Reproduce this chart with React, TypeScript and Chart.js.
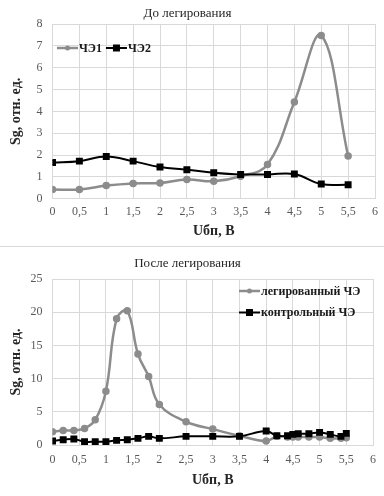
import React, { useEffect, useRef } from "react";
import { Chart, registerables } from "chart.js";

Chart.register(...registerables);

// ---- Data: "До легирования"
const xBefore = [0, 0.5, 1, 1.5, 2, 2.5, 3, 3.5, 4, 4.5, 5, 5.5];
const ce1 = [0.42, 0.42, 0.6, 0.7, 0.72, 0.88, 0.8, 1.03, 1.57, 4.43, 7.47, 1.95];
const ce2 = [1.66, 1.72, 1.93, 1.72, 1.45, 1.33, 1.19, 1.11, 1.11, 1.13, 0.67, 0.64];

// ---- Data: "После легирования"
const xAfter = [0, 0.2, 0.4, 0.6, 0.8, 1.0, 1.2, 1.4, 1.6, 1.8, 2.0, 2.5, 3.0, 3.5, 4.0, 4.2, 4.4, 4.5, 4.6, 4.8, 5.0, 5.2, 5.4, 5.5];
const doped = [2.0, 2.2, 2.2, 2.5, 3.8, 8.1, 19.0, 20.2, 13.7, 10.3, 6.1, 3.5, 2.4, 1.4, 0.6, 1.3, 1.2, 1.2, 1.2, 1.2, 1.2, 1.0, 1.0, 1.1];
const control = [0.6, 0.8, 0.9, 0.5, 0.5, 0.5, 0.7, 0.8, 1.0, 1.3, 1.0, 1.3, 1.3, 1.3, 2.1, 1.4, 1.4, 1.6, 1.7, 1.7, 1.9, 1.6, 1.3, 1.75];

const titleBefore = "До легирования";
const titleAfter = "После легирования";
const legendBefore = ["ЧЭ1", "ЧЭ2"];
const legendAfter = ["легированный ЧЭ", "контрольный ЧЭ"];
const yTitle = "Sg, отн. ед.";
const xTitle = "Uбп, В";

const FONT = "'Liberation Serif', 'Times New Roman', serif";
const GRAY = "#8c8c8c";
const BLACK = "#000000";
const GRID = "#d9d9d9";
const TICK = "#595959";

const toPts = (xs: number[], ys: number[]) => xs.map((x, i) => ({ x, y: ys[i] }));

type LegendCfg = {
  labels: string[];
  layout: "row" | "column";
  fromRight: boolean;
  dx: number;
  dy: number;
  rowGap: number;
};

const customLegend = {
  id: "customLegend",
  afterDraw(chart: any, _args: any, opts: LegendCfg) {
    if (!opts || !opts.labels) return;
    const { ctx, chartArea } = chart;
    ctx.save();
    ctx.font = `bold 12px ${FONT}`;
    ctx.textBaseline = "middle";
    ctx.textAlign = "left";
    let x = opts.fromRight ? chartArea.right - opts.dx : chartArea.left + opts.dx;
    let y = chartArea.top + opts.dy;
    const startX = x;
    opts.labels.forEach((label, i) => {
      const color = i === 0 ? GRAY : BLACK;
      ctx.strokeStyle = color;
      ctx.fillStyle = color;
      ctx.lineWidth = i === 0 ? 2.5 : 2;
      ctx.beginPath();
      ctx.moveTo(x, y);
      ctx.lineTo(x + 21, y);
      ctx.stroke();
      if (i === 0) {
        ctx.beginPath();
        ctx.arc(x + 10.5, y, 2.5, 0, Math.PI * 2);
        ctx.fill();
      } else {
        ctx.fillRect(x + 10.5 - 3.5, y - 3.5, 7, 7);
      }
      ctx.fillStyle = "#1a1a1a";
      ctx.fillText(label, x + 22, y + 0.5);
      const w = ctx.measureText(label).width;
      if (opts.layout === "row") {
        x = x + 22 + w + 4;
      } else {
        x = startX;
        y += opts.rowGap;
      }
    });
    ctx.restore();
  },
};

function makeConfig(
  title: string,
  xs: number[],
  s1: number[],
  s2: number[],
  labels: string[],
  yMax: number,
  yStep: number,
  t: { titlePadTop: number; titlePadBottom: number; xHeight: number; xTickPad: number; xTitlePadBottom: number },
  legend: LegendCfg
): any {
  return {
    type: "line",
    data: {
      datasets: [
        {
          label: labels[0],
          data: toPts(xs, s1),
          borderColor: GRAY,
          backgroundColor: GRAY,
          pointBackgroundColor: GRAY,
          pointBorderColor: GRAY,
          pointRadius: 2.5,
          pointStyle: "circle",
          borderWidth: 2.5,
          tension: 0.4,
          cubicInterpolationMode: "default",
          order: 2,
        },
        {
          label: labels[1],
          data: toPts(xs, s2),
          borderColor: BLACK,
          backgroundColor: BLACK,
          pointBackgroundColor: BLACK,
          pointBorderColor: BLACK,
          pointRadius: 3.5,
          pointStyle: "rect",
          borderWidth: 2,
          tension: 0.4,
          order: 1,
        },
      ],
    },
    options: {
      animation: false,
      responsive: false,
      devicePixelRatio: 1,
      layout: { padding: { left: 0, right: 9, top: 0, bottom: 0 } },
      plugins: {
        legend: { display: false },
        tooltip: { enabled: false },
        title: {
          display: true,
          text: title,
          color: "#262626",
          font: { family: FONT, size: 13, weight: "normal" },
          padding: { top: t.titlePadTop, bottom: t.titlePadBottom },
        },
        customLegend: legend,
      },
      scales: {
        x: {
          type: "linear",
          min: 0,
          max: 6,
          ticks: {
            stepSize: 0.5,
            color: TICK,
            font: { family: FONT, size: 12 },
            padding: t.xTickPad,
            maxRotation: 0,
            autoSkip: false,
            callback: (v: number) => String(v).replace(".", ","),
          },
          grid: { color: GRID, drawTicks: false, lineWidth: 1 },
          border: { color: GRID },
          title: {
            display: true,
            text: xTitle,
            color: "#262626",
            font: { family: FONT, size: 14, weight: "bold" },
            padding: { top: 4, bottom: t.xTitlePadBottom },
          },
          afterFit: (s: any) => {
            s.height = t.xHeight;
          },
        },
        y: {
          type: "linear",
          min: 0,
          max: yMax,
          ticks: {
            stepSize: yStep,
            color: TICK,
            font: { family: FONT, size: 12 },
            padding: 10,
          },
          grid: { color: GRID, drawTicks: false, lineWidth: 1 },
          border: { color: GRID },
          title: {
            display: true,
            text: yTitle,
            color: "#262626",
            font: { family: FONT, size: 14, weight: "bold" },
            padding: { top: 7.6, bottom: 4 },
          },
          afterFit: (s: any) => {
            s.width = 52.5;
          },
        },
      },
    },
    plugins: [customLegend],
  };
}

export default function App() {
  const ref1 = useRef<HTMLCanvasElement>(null);
  const ref2 = useRef<HTMLCanvasElement>(null);

  useEffect(() => {
    const c1 = new Chart(
      ref1.current as HTMLCanvasElement,
      makeConfig(
        titleBefore,
        xBefore,
        ce1,
        ce2,
        legendBefore,
        8,
        1,
        { titlePadTop: 6, titlePadBottom: 2.4, xHeight: 46.3, xTickPad: 6, xTitlePadBottom: 5 },
        { labels: legendBefore, layout: "row", fromRight: false, dx: 4.5, dy: 24, rowGap: 0 }
      )
    );
    const c2 = new Chart(
      ref2.current as HTMLCanvasElement,
      makeConfig(
        titleAfter,
        xAfter,
        doped,
        control,
        legendAfter,
        25,
        5,
        { titlePadTop: 9.2, titlePadBottom: 7.2, xHeight: 51, xTickPad: 8, xTitlePadBottom: 7.6 },
        { labels: legendAfter, layout: "column", fromRight: true, dx: 134, dy: 12, rowGap: 21.5 }
      )
    );
    return () => {
      c1.destroy();
      c2.destroy();
    };
  }, []);

  return (
    <div
      style={{
        position: "absolute",
        left: 0,
        top: 0,
        width: 384,
        height: 496,
        background: "#ffffff",
        overflow: "hidden",
      }}
    >
      <canvas
        ref={ref1}
        width={384}
        height={245}
        style={{ position: "absolute", left: 0, top: 0, width: 384, height: 245, display: "block" }}
      />
      <div
        style={{ position: "absolute", left: 0, top: 246, width: 384, height: 1, background: "#d9d9d9" }}
      />
      <canvas
        ref={ref2}
        width={384}
        height={249}
        style={{ position: "absolute", left: 0, top: 247, width: 384, height: 249, display: "block" }}
      />
    </div>
  );
}
